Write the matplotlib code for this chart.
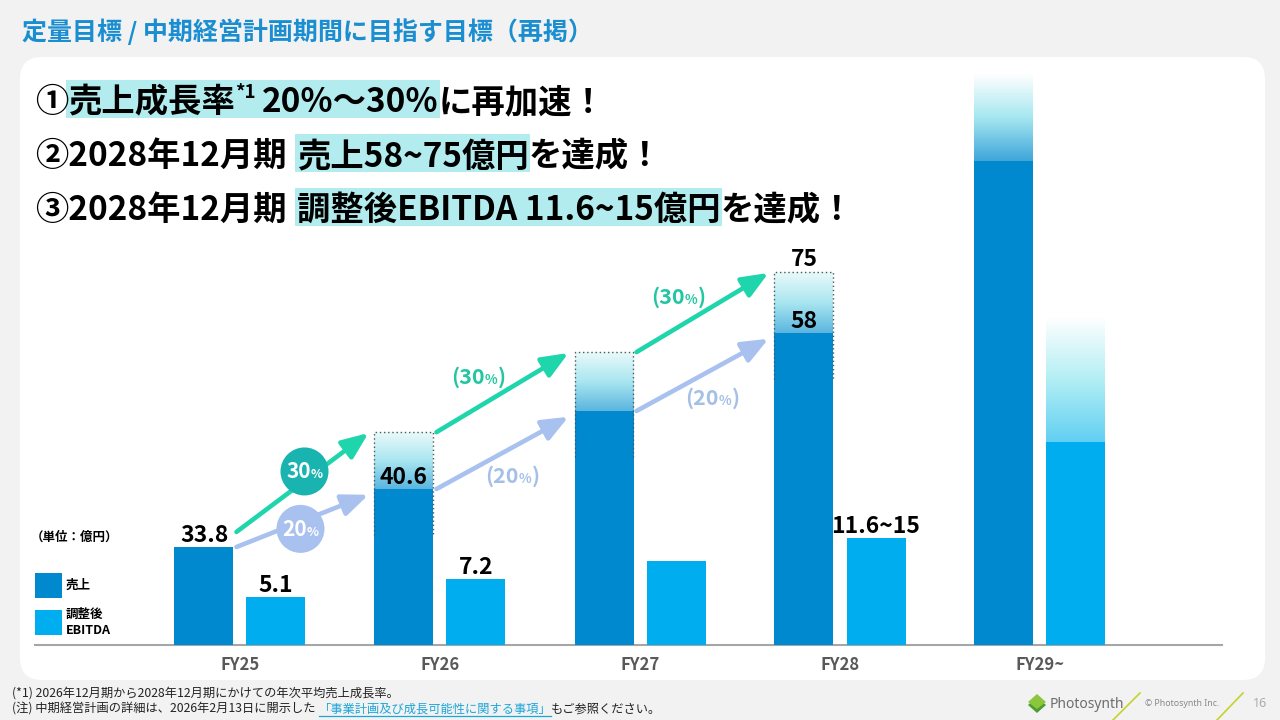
import numpy as np
import matplotlib.pyplot as plt
from matplotlib.patches import FancyBboxPatch, Rectangle, Circle, Polygon
from matplotlib.colors import LinearSegmentedColormap

plt.rcParams['font.family'] = ['Noto Sans CJK JP', 'DejaVu Sans']

W, H = 1280, 720

# data
categories = ['FY25', 'FY26', 'FY27', 'FY28', 'FY29~']
sales_labels = ['33.8', '40.6', '', '58', '']
sales_top_labels = ['', '', '', '75', '']
ebitda_labels = ['5.1', '7.2', '', '11.6~15', '']
# bar heights as drawn on the slide (schematic, not to scale)
sales_drawn = [33.8, 53.8, 80.7, 107.6, 166.9]
sales_range_drawn = [np.nan, 73.4, 101.0, 128.6, 196.6]
ebitda_drawn = [16.6, 22.8, 29.0, 36.9, 70.0]
ebitda_range_drawn = [np.nan, np.nan, np.nan, np.nan, 112.8]
growth_high = ['30', '30', '30']
growth_low = ['20', '20', '20']

# colours
BLUE_S = '#0089cf'
BLUE_E = '#00aeef'
TITLE_C = '#1a8ed0'
HILITE = '#b3ecef'
GREEN = '#1fd5ab'
GREEN_TXT = '#22c6a1'
TEAL = '#19b3b0'
LAV = '#a9c1ef'
LAV_TXT = '#a4c0e6'

fig = plt.figure(figsize=(12.8, 7.2), dpi=100, facecolor='#f2f2f2')

bg = fig.add_axes([0, 0, 1, 1], zorder=0)
bg.set_xlim(0, W)
bg.set_ylim(H, 0)
bg.axis('off')

ov = fig.add_axes([0, 0, 1, 1], zorder=5)
ov.set_xlim(0, W)
ov.set_ylim(H, 0)
ov.axis('off')

bg.add_patch(FancyBboxPatch((20, 57), 1245, 623, boxstyle='round,pad=0,rounding_size=22',
                            fc='white', ec='none', zorder=0))

R = fig.canvas.get_renderer()


def run(axp, pieces, x, y, ha='left'):
    # draw text pieces one after the other, returns [text, x0, x1]
    items = []
    cx = x
    for s, kw in pieces:
        kw = dict(kw)
        gap = kw.pop('gap', 0)
        dy = kw.pop('dy', 0)
        cx += gap
        t = axp.text(cx, y + dy, s, ha='left', va='baseline', zorder=4, **kw)
        w = t.get_window_extent(R).width
        items.append([t, cx, cx + w])
        cx += w
    if ha == 'center':
        shift = (cx - x) / 2
        for it in items:
            tx, ty = it[0].get_position()
            it[0].set_position((tx - shift, ty))
            it[1] -= shift
            it[2] -= shift
    return items


# title
bg.text(22, 40, '定量目標 / 中期経営計画期間に目指す目標（再掲）', fontsize=18,
        fontweight='bold', color=TITLE_C, va='baseline')

# headlines
big = dict(fontsize=24, fontweight='bold', color='black')
sup = dict(fontsize=13.5, fontweight='bold', color='black', dy=-14)
lines = [
    ([('①', big), ('売上成長率', big), ('*1', sup), ('20%～30%', dict(big, gap=6)), ('に再加速！', big)], (1, 3), 112),
    ([('②2028年12月期', big), ('売上58~75億円', dict(big, gap=10)), ('を達成！', big)], (1, 1), 166),
    ([('③2028年12月期', big), ('調整後EBITDA 11.6~15億円', dict(big, gap=10)), ('を達成！', big)], (1, 1), 220),
]
for pieces, (a, b), base in lines:
    items = run(bg, pieces, 35, base)
    x0 = items[a][1] - 2
    x1 = items[b][2] + 2
    bg.add_patch(Rectangle((x0, base - 32), x1 - x0, 38, fc=HILITE, ec='none', zorder=1))

# chart
ax = fig.add_axes([35 / W, (H - 645) / H, 1187 / W, 580 / H], zorder=2)
ax.set_facecolor('none')
x = np.arange(len(categories))
bw = 0.295
off = 0.18

ax.bar(x - off, sales_drawn, bw, color=BLUE_S, zorder=3)
ax.bar(x + off, ebitda_drawn, bw, color=BLUE_E, zorder=3)

cm_range = LinearSegmentedColormap.from_list('rng', ['#5ab5df', '#a9e6f0', '#e9fafa'])
cm_fade_s = LinearSegmentedColormap.from_list('fs', ['#3fa5da', '#a5e7f0', '#ffffff'])
cm_fade_e = LinearSegmentedColormap.from_list('fe', ['#62cff2', '#b2eef4', '#ffffff'])
grad = np.linspace(0, 1, 256).reshape(-1, 1)
last = len(categories) - 1

for i in range(len(categories)):
    x0, x1 = x[i] - off - bw / 2, x[i] - off + bw / 2
    if not np.isnan(sales_range_drawn[i]):
        cm = cm_fade_s if i == last else cm_range
        ax.imshow(grad, extent=(x0, x1, sales_drawn[i], sales_range_drawn[i]), origin='lower',
                  cmap=cm, aspect='auto', zorder=2, interpolation='bilinear')
        if i != last:
            lo = sales_drawn[i] - 16
            ax.plot([x0, x0, x1, x1], [lo, sales_range_drawn[i], sales_range_drawn[i], lo],
                    ls=(0, (1, 2)), color='#555555', lw=1, zorder=4)
    if not np.isnan(ebitda_range_drawn[i]):
        e0, e1 = x[i] + off - bw / 2, x[i] + off + bw / 2
        ax.imshow(grad, extent=(e0, e1, ebitda_drawn[i], ebitda_range_drawn[i]), origin='lower',
                  cmap=cm_fade_e, aspect='auto', zorder=2, interpolation='bilinear')

lab = dict(ha='center', va='bottom', fontsize=16.5, fontweight='bold', color='black',
           textcoords='offset points', zorder=6)
for i in range(len(categories)):
    if sales_labels[i]:
        ax.annotate(sales_labels[i], (x[i] - off, sales_drawn[i]), xytext=(0, 0), **lab)
    if sales_top_labels[i]:
        ax.annotate(sales_top_labels[i], (x[i] - off, sales_range_drawn[i]), xytext=(0, 1), **lab)
    if ebitda_labels[i]:
        ax.annotate(ebitda_labels[i], (x[i] + off, ebitda_drawn[i]), xytext=(0, 0), **lab)

ax.set_xlim(-1.025, 4.91)
ax.set_ylim(0, 200)
ax.set_xticks(x, categories)
ax.set_yticks([])
ax.tick_params(axis='x', length=0, pad=8, labelsize=12, labelcolor='#595959')
for t in ax.get_xticklabels():
    t.set_fontweight('bold')
for s in ['top', 'right', 'left']:
    ax.spines[s].set_visible(False)
ax.spines['bottom'].set_color('#a6a6a6')
ax.spines['bottom'].set_linewidth(1.5)


def to_px(xd, yd):
    d = ax.transData.transform((xd, yd))
    return d[0], H - d[1]


# growth arrows
head = '-|>,head_length=0.8,head_width=0.33'
for i in range(3):
    xs = x[i] - off + bw / 2 + 0.015
    xe = x[i + 1] - off - bw / 2 - 0.03
    gy0 = sales_range_drawn[i] if not np.isnan(sales_range_drawn[i]) else sales_drawn[i] + 5.2
    gy1 = sales_range_drawn[i + 1] - 0.3
    by0 = sales_drawn[i]
    by1 = sales_drawn[i + 1] - 2
    for (y0, y1, c) in [(gy0, gy1, GREEN), (by0, by1, LAV)]:
        ax.annotate('', xy=(xe, y1), xytext=(xs, y0), zorder=5,
                    arrowprops=dict(arrowstyle=head, color=c, lw=3.3, shrinkA=0, shrinkB=0,
                                    mutation_scale=20))
    gmx, gmy = to_px((xs + xe) / 2, (gy0 + gy1) / 2)
    bmx, bmy = to_px((xs + xe) / 2, (by0 + by1) / 2)
    if i == 0:
        # first year growth in filled circles
        for (cx, cy, c, g) in [(gmx + 2, gmy - 11, TEAL, growth_high[i]), (bmx - 2, bmy + 8, LAV, growth_low[i])]:
            ov.add_patch(Circle((cx, cy), 24, fc=c, ec='none', zorder=2))
            run(ov, [(g, dict(fontsize=15, fontweight='bold', color='white')),
                     ('%', dict(fontsize=9, fontweight='bold', color='white'))], cx, cy + 7, ha='center')
    else:
        for (cx, cy, c, g) in [(gmx - 24, gmy - 16, GREEN_TXT, growth_high[i]),
                               (bmx + 10, bmy + 23, LAV_TXT, growth_low[i])]:
            bigp = dict(fontsize=15.5, fontweight='bold', color=c)
            run(ov, [('(' + g, bigp), ('%', dict(fontsize=9.5, fontweight='bold', color=c)), (')', bigp)],
                cx, cy + 7, ha='center')

# legend and unit
bg.text(31, 537, '（単位：億円）', fontsize=9, fontweight='bold', va='center', zorder=3)
bg.add_patch(Rectangle((35, 573), 27, 25, fc=BLUE_S, ec='none', zorder=2))
bg.add_patch(Rectangle((35, 610), 27, 25, fc=BLUE_E, ec='none', zorder=2))
bg.text(66, 585, '売上', fontsize=9, fontweight='bold', va='center', zorder=3)
bg.text(66, 622, '調整後\nEBITDA', fontsize=9, fontweight='bold', va='center', linespacing=1.3, zorder=3)

# footnotes
fn = dict(fontsize=8.8, color='#222222')
run(bg, [('(*1) 2026年12月期から2028年12月期にかけての年次平均売上成長率。', fn)], 12, 697)
items = run(bg, [('(注) 中期経営計画の詳細は、2026年2月13日に開示した', fn),
                 ('「事業計画及び成長可能性に関する事項」', dict(fn, color='#1ba6d9', gap=3)),
                 ('もご参照ください。', fn)], 12, 713)
bg.plot([items[1][1], items[1][2]], [715.5, 715.5], color='#1ba6d9', lw=0.9, zorder=3)

# logo / page
bg.add_patch(Polygon([(1028, 705), (1037, 697), (1046, 705), (1037, 713)], fc='#4c9e32', ec='none', zorder=3))
bg.add_patch(Polygon([(1028, 702), (1037, 694), (1046, 702), (1037, 709)], fc='#8cc63f', ec='none', zorder=3))
bg.text(1050, 708, 'Photosynth', fontsize=10, color='#6d6d6d', family='Noto Sans', va='baseline', zorder=3)
bg.plot([1113, 1140], [720, 693], color='#c5d22e', lw=1.2, zorder=3)
bg.text(1145, 706, '© Photosynth Inc.', fontsize=6.3, color='#888888', family='Noto Sans', va='baseline', zorder=3)
bg.plot([1217, 1243], [720, 693], color='#c5d22e', lw=1.2, zorder=3)
bg.text(1253, 707, '16', fontsize=9, color='#aaaaaa', family='Noto Sans', va='baseline', zorder=3)

fig.savefig('out.png', dpi=100, facecolor=fig.get_facecolor())
